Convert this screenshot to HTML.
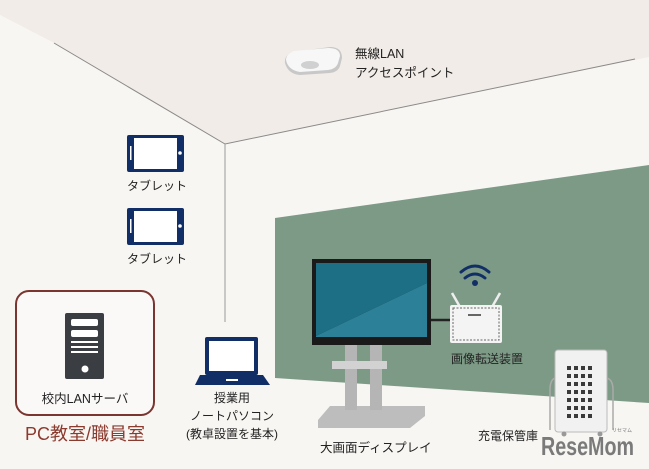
<!DOCTYPE html>
<html><head><meta charset="utf-8"><style>
body{margin:0;width:649px;height:469px;overflow:hidden;background:#f8f6f3}
svg{display:block}
text{font-family:"Liberation Sans","Noto Sans CJK JP",sans-serif;fill:#222}
</style></head><body>
<svg width="649" height="469" viewBox="0 0 649 469">
<rect width="649" height="469" fill="#f8f6f3"/>
<polygon points="0,0 649,0 649,57 225,144 54,43 0,15" fill="#f1ece7"/>
<polygon points="0,15 54,43 225,144 225,330 0,330" fill="#f8f6f3"/>
<polyline points="54,43 225,144 635,59" fill="none" stroke="#8a8a8a" stroke-width="1"/>
<line x1="225" y1="144" x2="225" y2="322" stroke="#999" stroke-width="1"/>
<polygon points="275,218 649,165 649,403 275,378" fill="#7d9a86"/>
<!-- AP -->
<path d="M285,63 Q284,56 292,52 L330,47 Q342,47 342,58 L340,66 Q338,72 330,73 L300,75 Q288,74 285,63Z" fill="#c8c8c8"/>
<path d="M286,60 Q286,54 294,51 L328,48 Q340,48 340,56 L338,63 Q336,69 328,70 L300,72 Q288,70 286,60Z" fill="#f7f7f7"/>
<ellipse cx="310" cy="65" rx="9" ry="4" fill="#d0d0d0"/>
<text x="355" y="58" font-size="12.5">無線LAN</text>
<text x="355" y="77" font-size="12.5">アクセスポイント</text>
<!-- tablets -->
<g fill="#112f66"><rect x="127" y="135" width="57" height="37" rx="2"/><rect x="127" y="208" width="57" height="37" rx="2"/></g>
<g fill="#fff"><rect x="134" y="138" width="43" height="31"/><rect x="134" y="211" width="43" height="31"/>
<circle cx="180" cy="153" r="1.8"/><circle cx="180" cy="226" r="1.8"/>
<rect x="130" y="146" width="1.5" height="14"/><rect x="130" y="219" width="1.5" height="14"/></g>
<text x="127" y="190" font-size="12">タブレット</text>
<text x="127" y="263" font-size="12">タブレット</text>
<!-- server box -->
<rect x="16" y="291" width="138" height="124" rx="13" fill="#fbf9f8" stroke="#7a3530" stroke-width="2"/>
<rect x="65" y="313" width="39" height="66" rx="2" fill="#3a3d42"/>
<g fill="#fff"><rect x="71" y="319" width="27" height="7" rx="2"/><rect x="71" y="330" width="27" height="7" rx="2"/>
<rect x="71" y="341" width="27" height="2"/><rect x="71" y="346" width="27" height="2"/><rect x="71" y="351" width="27" height="2"/>
<circle cx="85" cy="369" r="3.5"/></g>
<text x="85" y="403" font-size="12.5" text-anchor="middle">校内LANサーバ</text>
<text x="85" y="440" font-size="18" text-anchor="middle" style="fill:#8b3a2e">PC教室/職員室</text>
<!-- laptop -->
<rect x="205" y="337" width="53" height="38" rx="2" fill="#112f66"/>
<rect x="209" y="341" width="45" height="30" fill="#fff"/>
<path d="M200,375 L263,375 L270,385 L195,385Z" fill="#112f66"/>
<rect x="226" y="379" width="12" height="2" fill="#fff"/>
<text x="232" y="402" font-size="12" text-anchor="middle">授業用</text>
<text x="232" y="420" font-size="12" text-anchor="middle">ノートパソコン</text>
<text x="232" y="438" font-size="12" text-anchor="middle">(教卓設置を基本)</text>
<!-- TV stand -->
<path d="M318,420 L330,406 L425,406 L425,416 L410,428 L318,428Z" fill="#bdbdbd"/>
<rect x="345" y="342" width="12" height="68" fill="#b5b5b5"/>
<rect x="370" y="342" width="12" height="68" fill="#b5b5b5"/>
<rect x="332" y="361" width="55" height="8" fill="#d2d2d2"/>
<rect x="312" y="259" width="119" height="86" fill="#1a1a1a"/>
<polygon points="316,263 427,263 427,283 316,336" fill="#1d6f86"/>
<polygon points="316,336 427,283 427,337 316,337" fill="#2c8199"/>
<line x1="431" y1="320" x2="452" y2="320" stroke="#222" stroke-width="2.5"/>
<!-- router -->
<line x1="460" y1="307" x2="452" y2="293" stroke="#eee" stroke-width="2.5"/>
<line x1="492" y1="307" x2="500" y2="293" stroke="#eee" stroke-width="2.5"/>
<rect x="450" y="305" width="52" height="38" rx="2" fill="#f4f4f4"/>
<rect x="453" y="308" width="46" height="32" fill="none" stroke="#666" stroke-dasharray="2,1.5" stroke-width="1"/>
<rect x="468" y="314" width="13" height="2" fill="#666"/>
<g fill="none" stroke="#112f66" stroke-width="3" stroke-linecap="round">
<path d="M461,272 Q475,260 489,272"/><path d="M465,278 Q475,270 485,278"/></g>
<circle cx="475" cy="283" r="3" fill="#112f66"/>
<text x="487" y="363" font-size="12" text-anchor="middle">画像転送装置</text>
<!-- cabinet -->
<rect x="555" y="350" width="52" height="82" rx="3" fill="#f1f1f1" stroke="#bbb" stroke-width="1"/>
<path d="M555,378 Q550,380 550,390 L550,430" fill="none" stroke="#aaa" stroke-width="1.5"/>
<path d="M607,378 Q613,380 613,390 L613,430" fill="none" stroke="#aaa" stroke-width="1.5"/>
<g fill="#3a3a3a">
<rect x="567" y="366" width="4" height="4"/><rect x="574" y="366" width="4" height="4"/><rect x="581" y="366" width="4" height="4"/><rect x="588" y="366" width="4" height="4"/>
<rect x="567" y="374" width="4" height="4"/><rect x="574" y="374" width="4" height="4"/><rect x="581" y="374" width="4" height="4"/><rect x="588" y="374" width="4" height="4"/>
<rect x="567" y="382" width="4" height="4"/><rect x="574" y="382" width="4" height="4"/><rect x="581" y="382" width="4" height="4"/><rect x="588" y="382" width="4" height="4"/>
<rect x="567" y="390" width="4" height="4"/><rect x="574" y="390" width="4" height="4"/><rect x="581" y="390" width="4" height="4"/><rect x="588" y="390" width="4" height="4"/>
<rect x="567" y="398" width="4" height="4"/><rect x="574" y="398" width="4" height="4"/><rect x="581" y="398" width="4" height="4"/><rect x="588" y="398" width="4" height="4"/>
<rect x="567" y="406" width="4" height="4"/><rect x="574" y="406" width="4" height="4"/><rect x="581" y="406" width="4" height="4"/><rect x="588" y="406" width="4" height="4"/>
<rect x="567" y="414" width="4" height="4"/><rect x="574" y="414" width="4" height="4"/><rect x="581" y="414" width="4" height="4"/><rect x="588" y="414" width="4" height="4"/>
</g>
<circle cx="564" cy="434" r="2.5" fill="#999"/><circle cx="600" cy="434" r="2.5" fill="#999"/>
<text x="478" y="440" font-size="12">充電保管庫</text>
<text x="320" y="452" font-size="12.5">大画面ディスプレイ</text>
<text x="541" y="455" font-size="26" font-weight="bold" textLength="93" lengthAdjust="spacingAndGlyphs" style="fill:#7a7a7a">ReseMom</text>
<text x="612" y="432" font-size="5" style="fill:#7a7a7a">リセマム</text>
</svg>
</body></html>
